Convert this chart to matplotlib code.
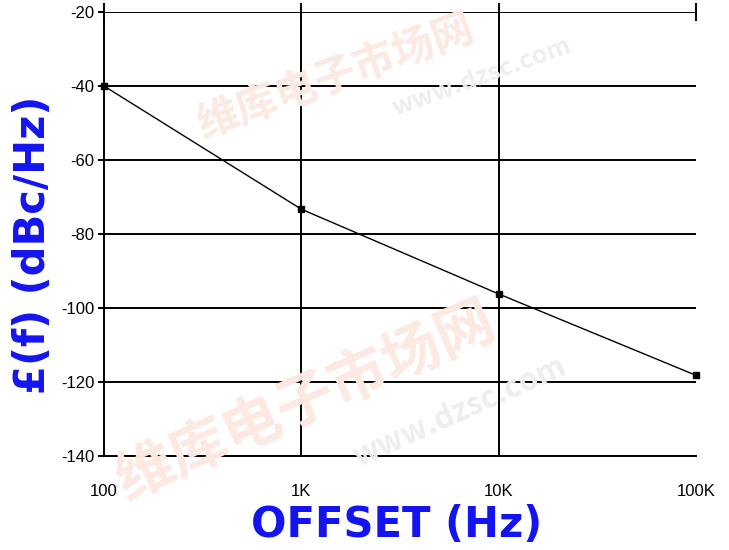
import numpy as np
import matplotlib.pyplot as plt
from matplotlib.ticker import FixedLocator, NullLocator

# phase noise vs offset
offset_hz = [100, 1000, 10000, 100000]
noise_dbc = [-40, -73.3, -96.2, -118.2]

xticks = [100, 1000, 10000, 100000]
xtick_labels = ['100', '1K', '10K', '100K']
yticks = [-140, -120, -100, -80, -60, -40, -20]

blue = '#1414f0'
tick_font = ['Liberation Sans Narrow', 'Liberation Sans', 'DejaVu Sans']

fig = plt.figure(figsize=(7.29, 5.5), dpi=100)
ax = fig.add_axes([104/729, 1-456/550, (696-104)/729, (456-12)/550])

# faint watermark
wm = dict(family=['Noto Sans CJK SC', 'DejaVu Sans'], ha='center', va='center',
          zorder=0, fontweight='bold')
fig.text(0.46, 0.86, '维库电子市场网', fontsize=30, color='#fbe9e2', rotation=20, **wm)
fig.text(0.66, 0.86, 'www.dzsc.com', fontsize=18, color='#eeeeee', rotation=20, **wm)
fig.text(0.42, 0.27, '维库电子市场网', fontsize=42, color='#fbe9e2', rotation=24, **wm)
fig.text(0.63, 0.25, 'www.dzsc.com', fontsize=22, color='#eeeeee', rotation=24, **wm)
ax.patch.set_alpha(0)

ax.plot(offset_hz, noise_dbc, color='black', lw=1.0, marker='s', ms=4,
        mfc='black', mec='black', clip_on=False, zorder=5)

ax.set_xscale('log')
ax.set_xlim(100, 100000)
ax.set_ylim(-140, -20)
ax.xaxis.set_major_locator(FixedLocator(xticks))
ax.xaxis.set_minor_locator(NullLocator())
ax.set_xticklabels(xtick_labels)
ax.set_yticks(yticks)
ax.set_yticklabels([str(v) for v in yticks])

# horizontal grid, vertical lines only at the inner decades (no line at 100K)
ax.grid(True, axis='y', color='black', lw=1.4)
for x in xticks[1:-1]:
    ax.axvline(x, color='black', lw=1.4, zorder=1)
for s in ['top', 'right']:
    ax.spines[s].set_visible(False)
for s in ['left', 'bottom']:
    ax.spines[s].set_linewidth(1.4)

ax.tick_params(axis='x', which='major', bottom=False, top=True, direction='inout',
               length=13, width=1.4, pad=14, labelsize=12)
ax.tick_params(axis='y', which='major', left=True, direction='out', length=4,
               width=1.4, pad=3, labelsize=12)
for lab in ax.get_xticklabels() + ax.get_yticklabels():
    lab.set_family(tick_font)

fig.text(397/729, 1-525/550, 'OFFSET (Hz)', color=blue, fontsize=30, fontweight='bold',
         ha='center', va='center', family='DejaVu Sans')
fig.text(33/729, 1-245/550, '£(f) (dBc/Hz)', color=blue, fontsize=30, fontweight='bold',
         ha='center', va='center', rotation=90, family='DejaVu Sans')

fig.savefig('out.png', dpi=100)
